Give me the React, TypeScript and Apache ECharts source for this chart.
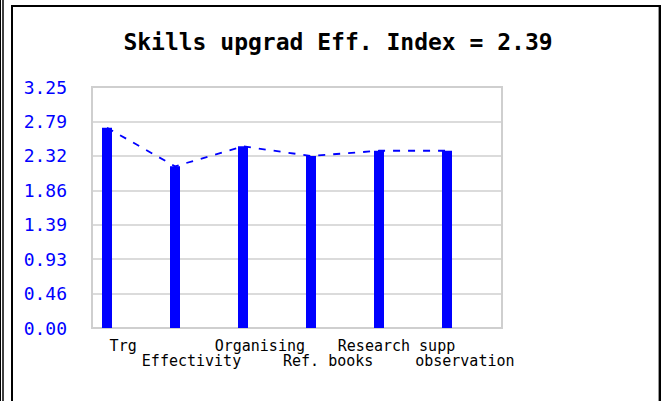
import React, { useEffect, useRef } from "react";
import * as echarts from "echarts";

const titleText = "Skills upgrad Eff. Index = 2.39";
const categories = ["Trg", "Effectivity", "Organising", "Ref. books", "Research supp", "observation"];
const values = [2.70, 2.18, 2.45, 2.32, 2.39, 2.39];
const yMax = 3.25;
const ySteps = 7;

export default function App() {
  const ref = useRef<HTMLDivElement>(null);
  useEffect(() => {
    if (!ref.current) return;
    const chart = echarts.init(ref.current, null, { renderer: "svg" });
    const mono = "DejaVu Sans Mono";
    chart.setOption({
      animation: false,
      backgroundColor: "#ffffff",
      title: {
        text: titleText,
        left: 333,
        top: 25,
        textAlign: "center",
        textStyle: { fontFamily: mono, fontWeight: "bold", fontSize: 23, color: "#000" },
      },
      graphic: [
        { type: "line", shape: { x1: 0.5, y1: 0, x2: 0.5, y2: 401 }, style: { stroke: "#000", lineWidth: 1 } },
        { type: "line", shape: { x1: 3, y1: 0, x2: 3, y2: 401 }, style: { stroke: "#000", lineWidth: 1.5 } },
        { type: "line", shape: { x1: 12, y1: 5, x2: 12, y2: 401 }, style: { stroke: "#000", lineWidth: 2 } },
        { type: "line", shape: { x1: 11, y1: 6, x2: 661, y2: 6 }, style: { stroke: "#000", lineWidth: 2 } },
        { type: "line", shape: { x1: 660, y1: 5, x2: 660, y2: 401 }, style: { stroke: "#000", lineWidth: 2 } },
        { type: "line", shape: { x1: 658.5, y1: 7, x2: 658.5, y2: 401 }, style: { stroke: "#999", lineWidth: 1 } },
      ],
      grid: [
        { left: 92, top: 87, width: 410, height: 241, show: true, borderColor: "#cfcfcf", borderWidth: 2, backgroundColor: "#fff" },
        { left: 107, top: 87, width: 340, height: 241, show: false },
      ],
      xAxis: [
        {
          gridIndex: 0,
          type: "category",
          data: categories,
          boundaryGap: true,
          axisLine: { show: false },
          axisTick: { show: false },
          splitLine: { show: false },
          axisLabel: {
            interval: 0,
            margin: 10,
            color: "#000",
            fontFamily: mono,
            fontSize: 15,
            lineHeight: 15,
            padding: [0, 6, 0, 0],
            formatter: (v: string, i: number) => (i % 2 ? "\n" + v : v),
          },
        },
        { gridIndex: 1, type: "category", data: categories, boundaryGap: false, show: false },
      ],
      yAxis: [
        {
          gridIndex: 0,
          type: "value",
          min: 0,
          max: yMax,
          interval: yMax / ySteps,
          axisLine: { show: false },
          axisTick: { show: false },
          splitLine: { lineStyle: { color: "#cfcfcf", width: 1.5 } },
          axisLabel: {
            margin: 25,
            color: "#0000ff",
            fontFamily: mono,
            fontSize: 18,
            formatter: (v: number) => v.toFixed(2),
          },
        },
        { gridIndex: 1, type: "value", min: 0, max: yMax, show: false },
      ],
      series: [
        {
          type: "line",
          xAxisIndex: 1,
          yAxisIndex: 1,
          data: values,
          symbol: "none",
          z: 2,
          lineStyle: { color: "#0000ff", width: 1.8, type: [7, 8] },
        },
        {
          type: "bar",
          xAxisIndex: 1,
          yAxisIndex: 1,
          data: values,
          barWidth: 10,
          z: 3,
          itemStyle: { color: "#0000ff" },
        },
      ],
    });
    return () => chart.dispose();
  }, []);
  return <div ref={ref} style={{ position: "absolute", left: 0, top: 0, width: 663, height: 401 }} />;
}
